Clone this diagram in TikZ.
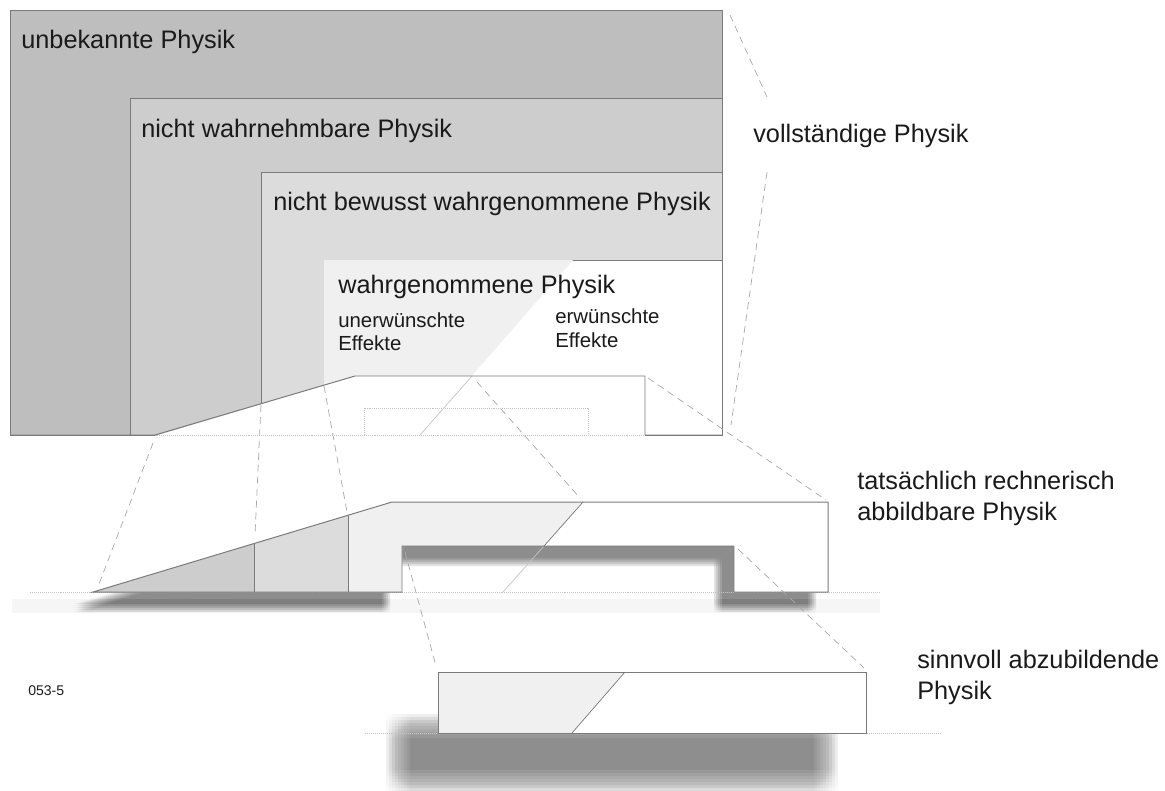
\documentclass[tikz,border=0pt]{standalone}
\usepackage{fontspec}
\setmainfont{Liberation Sans}

\definecolor{shadeA}{HTML}{BEBEBE}
\definecolor{shadeB}{HTML}{CDCDCD}
\definecolor{shadeC}{HTML}{DCDCDC}
\definecolor{shadeD}{HTML}{F0F0F0}
\definecolor{edgegray}{HTML}{7A7A7A}
\definecolor{projgray}{HTML}{A8A8A8}
\definecolor{guidegray}{HTML}{C4C4C4}
\definecolor{floorgray}{HTML}{F6F6F6}
\definecolor{labeltext}{HTML}{1A1A1A}

\begin{document}
\begin{tikzpicture}[
        x=0.025cm, y=-0.025cm,
        edge/.style={draw=edgegray, line width=0.7pt},
        thinedge/.style={draw=edgegray, line width=0.5pt},
        faint/.style={draw=guidegray, line width=0.5pt},
        proj/.style={draw=projgray, line width=0.5pt, dash pattern=on 5pt off 3.5pt},
        guide/.style={draw=guidegray, line width=0.5pt, dash pattern=on 0.7pt off 0.7pt},
        biglabel/.style={font=\fontsize{18}{22}\selectfont, text=labeltext, inner sep=0pt, anchor=base west},
        smalllabel/.style={font=\fontsize{14.5}{17}\selectfont, text=labeltext, inner sep=0pt, anchor=base west},
        codelabel/.style={font=\fontsize{10}{12}\selectfont, text=labeltext, inner sep=0pt, anchor=base west},
        shadowlayer/.style={fill=black, opacity=#1}
    ]
    \useasboundingbox (0,0) rectangle (1165,790);

    % Nested ranges of physics
    \filldraw[fill=shadeA, edge] (10,10) rectangle (722,435);
    \filldraw[fill=shadeB, edge] (130,98) rectangle (722,435);
    \filldraw[fill=shadeC, edge] (261,172) rectangle (722,435);
    \filldraw[fill=white, edge] (324,260) rectangle (722,435);
    \fill[shadeD] (324,260) -- (573,260) -- (420,435) -- (324,435) -- cycle;

    % Cut-out of the computable part
    \fill[white] (155,436) -- (355,376) -- (645,376) -- (645,436) -- cycle;
    \draw[guide] (155,435) -- (645,435);
    \draw[guide] (364,435) |- (588,408) -- (588,435);
    \draw[faint] (472,376) -- (420,435);
    \draw[edge] (10,435) -- (155,435) -- (355,376) -- (645,376) -- (645,435) -- (722,435);
    \draw[edge] (722,260) -- (722,435);

    % Labels, top
    \node[biglabel] (unknown) at (21,48) {unbekannte Physik};
    \node[biglabel] (imperceptible) at (141,137) {nicht wahrnehmbare Physik};
    \node[biglabel] (unconscious) at (273,210) {nicht bewusst wahrgenommene Physik};
    \node[biglabel] (perceived) at (338,293) {wahrgenommene Physik};
    \node[smalllabel] (unwanted) at (338,327) {unerwünschte};
    \node[smalllabel] (unwantedfx) at (338,350) {Effekte};
    \node[smalllabel] (wanted) at (555,323) {erwünschte};
    \node[smalllabel] (wantedfx) at (555,347) {Effekte};
    \node[biglabel] (complete) at (753,142) {vollständige Physik};

    % Brackets of the complete physics
    \draw[proj] (730,15) -- (767,97);
    \draw[proj] (767,172) -- (731,425);

    % Computable physics
    \fill[floorgray] (12,599) rectangle (880,613);
    \foreach \dx in {-4,-2,0,2,4} {
        \foreach \dy in {-4,-2,0,2,4} {
            \fill[shadowlayer=0.024, shift={(\dx-16,\dy+16)}] (93,592) -- (392,502) -- (828,502)
                -- (828,592) -- (734,592) -- (734,546) -- (402,546) -- (402,592) -- cycle;
        }
    }
    \fill[white] (93,592) -- (392,502) -- (828,502) -- (828,592) -- (734,592)
        -- (734,546) -- (402,546) -- (402,592) -- cycle;
    \fill[shadeB] (93,592) -- (254,543.5) -- (254,592) -- cycle;
    \fill[shadeC] (254,543.5) -- (348,515.2) -- (348,592) -- (254,592) -- cycle;
    \fill[shadeD] (348,515.2) -- (392,502) -- (583,502) -- (544,546) -- (402,546)
        -- (402,592) -- (348,592) -- cycle;
    \draw[guide] (30,592) -- (880,592);
    \draw[faint] (544,546) -- (503,592);
    \draw[thinedge] (583,502) -- (544,546);
    \draw[thinedge] (254,592) -- (254,543.5);
    \draw[thinedge] (348,592) -- (348,515.2);
    \draw[edge] (93,592) -- (392,502) -- (828,502) -- (828,592) -- (734,592)
        -- (734,546) -- (402,546) -- (402,592) -- cycle;
    \node[biglabel] (computable) at (857,489) {tatsächlich rechnerisch};
    \node[biglabel] (computablefx) at (857,520) {abbildbare Physik};

    % Physics worth modelling
    \foreach \dx in {-12,-9,...,12} {
        \foreach \dy in {-12,-9,...,12} {
            \fill[shadowlayer=0.0074, shift={(\dx,\dy)}] (398,726) rectangle (826,782);
        }
    }
    \fill[white] (438,672) rectangle (866,733);
    \fill[shadeD] (438,672) -- (625,672) -- (572,733) -- (438,733) -- cycle;
    \draw[guide] (365,733) -- (940,733);
    \draw[thinedge] (625,672) -- (572,733);
    \draw[edge] (438,672) rectangle (866,733);
    \node[biglabel] (sensible) at (917,668) {sinnvoll abzubildende};
    \node[biglabel] (sensiblefx) at (917,699) {Physik};

    % Projection lines
    \draw[proj] (153,443) -- (99,584);
    \draw[proj] (261,405) -- (255,535);
    \draw[proj] (324,386) -- (347,512);
    \draw[proj] (477,382) -- (580,498);
    \draw[proj] (648,378) -- (826,500);
    \draw[proj] (405,552) -- (436,666);
    \draw[proj] (738,549) -- (864,668);

    \node[codelabel] (figid) at (28,695) {053-5};
\end{tikzpicture}
\end{document}
